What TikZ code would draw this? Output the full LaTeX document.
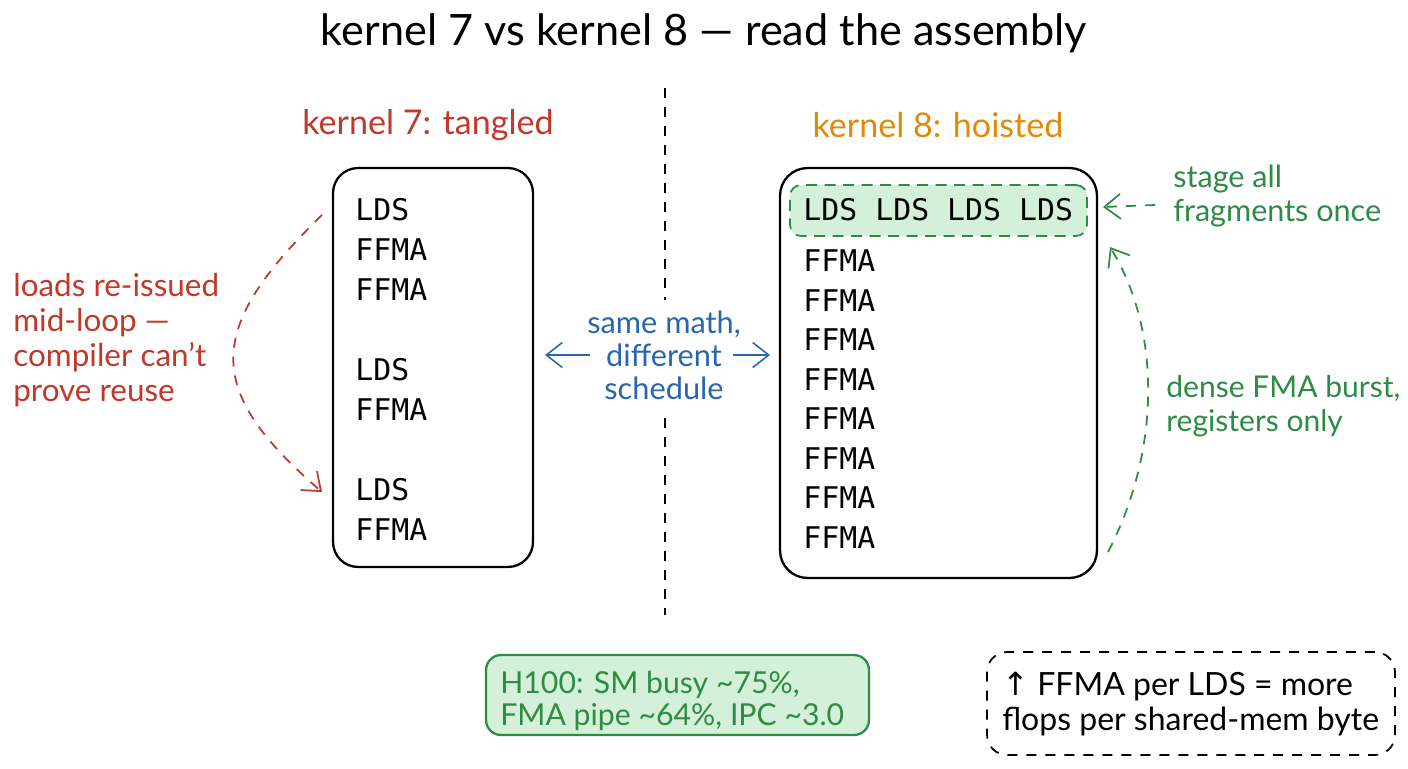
\documentclass[tikz,border=0pt]{standalone}
\usepackage{fontspec}
\setmainfont{Lato}
\setmonofont{DejaVu Sans Mono}
\newfontfamily\symfont{DejaVu Sans}
\usetikzlibrary{arrows.meta}
\definecolor{cred}{HTML}{C0392B}
\definecolor{corange}{HTML}{E08A0B}
\definecolor{cgreen}{HTML}{2E8B45}
\definecolor{cblue}{HTML}{2A66B0}
\definecolor{gfill}{HTML}{D5F0D8}
\tikzset{
  lbl/.style={inner sep=0pt, font=\fontsize{17.5}{20}\selectfont},
  ktitle/.style={inner sep=0pt, font=\fontsize{19.4}{23}\selectfont},
  ins/.style={inner sep=0pt, anchor=west, font=\ttfamily\fontsize{17}{20}\selectfont},
  codebox/.style={draw=black, line width=1.3pt, rounded corners=0.5cm, inner sep=0pt},
  dashln/.style={dash pattern=on 0.2cm off 0.18cm, line width=1pt},
  barb/.style={-{Straight Barb[length=3.2mm,width=5mm]}, line width=0.9pt},
}
\begin{document}
\begin{tikzpicture}[x=0.02cm,y=-0.02cm]
\useasboundingbox[fill=white] (0,0) rectangle (1408,768);

% title
\node[inner sep=0pt, font=\fontsize{24.6}{28}\selectfont] (title) at (704,33) {kernel 7 vs kernel 8 — read the assembly};

% divider
\coordinate (d1) at (665,88);
\coordinate (d2) at (665,300);
\coordinate (d3) at (665,418);
\coordinate (d4) at (665,615);
\draw[dashln] (d1) -- (d2);
\draw[dashln] (d3) -- (d4);

% column titles
\node[ktitle, text=cred] (t7) at (428,125) {kernel 7: tangled};
\node[ktitle, text=corange] (t8) at (938,125) {kernel 8: hoisted};

% left box
\node[codebox, minimum width=4cm, minimum height=7.98cm] (box7) at (433,367.5) {};
\node[ins] (a1) at (355,210) {LDS};
\node[ins] (a2) at (355,250) {FFMA};
\node[ins] (a3) at (355,290) {FFMA};
\node[ins] (a4) at (355,370) {LDS};
\node[ins] (a5) at (355,410) {FFMA};
\node[ins] (a6) at (355,490) {LDS};
\node[ins] (a7) at (355,530) {FFMA};

% right box
\node[codebox, rounded corners=0.55cm, minimum width=6.34cm, minimum height=8.2cm] (box8) at (938.5,373) {};
\node[draw=cgreen, fill=gfill, dash pattern=on 0.22cm off 0.15cm, line width=1pt, rounded corners=0.22cm,
      minimum width=5.94cm, minimum height=1.02cm, inner sep=0pt] (stage) at (938.5,210.5) {};
\node[ins] (b0) at (803,210) {LDS LDS LDS LDS};
\node[ins] (b1) at (803,261) {FFMA};
\node[ins] (b2) at (803,301) {FFMA};
\node[ins] (b3) at (803,340) {FFMA};
\node[ins] (b4) at (803,380) {FFMA};
\node[ins] (b5) at (803,419) {FFMA};
\node[ins] (b6) at (803,459) {FFMA};
\node[ins] (b7) at (803,498) {FFMA};
\node[ins] (b8) at (803,538) {FFMA};

% red annotation
\node[lbl, text=cred, anchor=west, align=left, font=\fontsize{17.9}{19.8}\selectfont] (reissue) at (13,340)
  {loads re-issued\\mid-loop —\\compiler can't\\prove reuse};
\coordinate (r1) at (322,215);
\coordinate (r2) at (322,492);
\draw[barb, cred, dashln] (r1) .. controls (204,330) and (204,390) .. (r2);

% blue annotation
\node[lbl, text=cblue, align=center, font=\fontsize{17.5}{18.7}\selectfont] (same) at (664,355)
  {same math,\\different\\schedule};
\coordinate (bl1) at (590,355);
\coordinate (bl2) at (545,355);
\coordinate (br1) at (733,355);
\coordinate (br2) at (770,355);
\draw[barb, cblue] (bl1) -- (bl2);
\draw[barb, cblue] (br1) -- (br2);

% green annotations
\node[lbl, text=cgreen, anchor=west, align=left, font=\fontsize{17.4}{19.8}\selectfont] (stagelbl) at (1173,196)
  {stage all\\fragments once};
\coordinate (s1) at (1155,205);
\coordinate (s2) at (1103,207);
\draw[barb, cgreen, dashln] (s1) -- (s2);

\node[lbl, text=cgreen, anchor=west, align=left, font=\fontsize{17.1}{19.3}\selectfont] (dense) at (1166,406)
  {dense FMA burst,\\registers only};
\coordinate (g1) at (1108,552);
\coordinate (g2) at (1110,247);
\draw[barb, cgreen, dashln] (g1) .. controls (1161,450) and (1161,330) .. (g2);

% bottom boxes
\node[draw=cgreen, fill=gfill, line width=1.3pt, rounded corners=0.3cm,
      minimum width=7.66cm, minimum height=1.6cm, inner sep=0pt] (h100box) at (677.5,695) {};
\node[lbl, text=cgreen, anchor=west, align=left, font=\fontsize{17.2}{18.7}\selectfont] (h100) at (500,701)
  {H100: SM busy \textasciitilde75\%,\\FMA pipe \textasciitilde64\%, IPC \textasciitilde3.0};

\node[draw=black, dashln, rounded corners=0.4cm,
      minimum width=8.16cm, minimum height=2.06cm, inner sep=0pt] (notebox) at (1191,703.5) {};
\node[lbl, anchor=west, align=left, font=\fontsize{18.2}{20.4}\selectfont] (note) at (1002,704)
  {{\symfont ↑} FFMA per LDS = more\\flops per shared-mem byte};
\end{tikzpicture}
\end{document}
